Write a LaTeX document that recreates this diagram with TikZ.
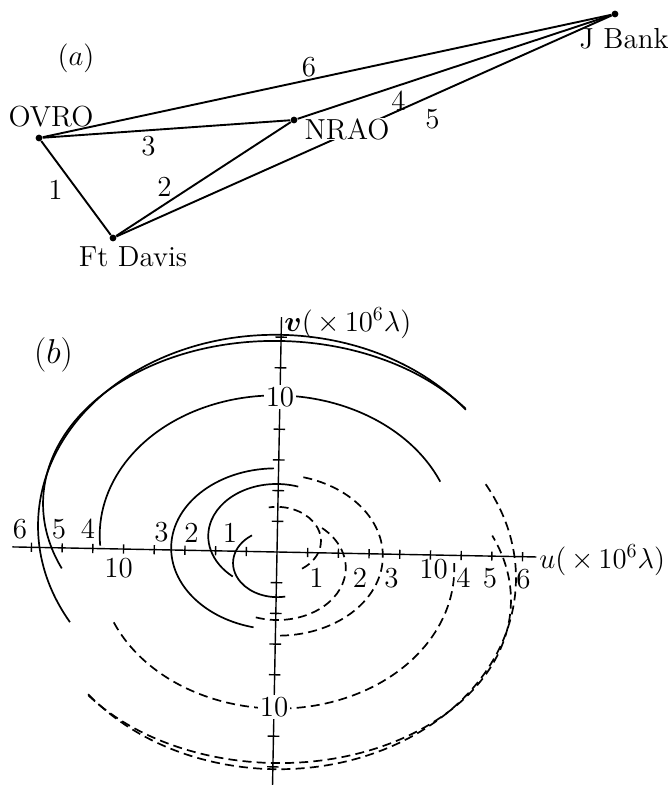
\documentclass[tikz,border=0pt]{standalone}
\usepackage{fontspec}
\usepackage{amsmath}
\tikzset{
  lbl/.style={font=\fontsize{14.5}{17}\selectfont, inner sep=0.5pt},
  station/.style={circle, fill=black, inner sep=0pt, minimum size=3.4pt},
  bline/.style={line width=0.95pt},
  trk/.style={line width=0.85pt},
  trkd/.style={line width=0.85pt, dash pattern=on 4.5pt off 2.6pt},
  axisline/.style={line width=0.7pt},
}
\newcommand\uvtrk[5]{% a b c t1 t2
  \draw[trk] (0,#3) ++(#4:#1 and #2) arc[start angle=#4, end angle=#5, x radius=#1, y radius=#2];
  \draw[trkd] (0,{-1*(#3)}) ++({#4+180}:#1 and #2) arc[start angle={#4+180}, end angle={#5+180}, x radius=#1, y radius=#2];
}
\begin{document}
\begin{tikzpicture}[x=0.5pt,y=-0.5pt]
\useasboundingbox (0,0) rectangle (668,785);
% ---------- (a) ----------
\node[station] (ovro) at (39,138) {};
\node[station] (nrao) at (294,120) {};
\node[station] (jb) at (615,14) {};
\node[station] (fd) at (113,238) {};
\draw[bline] (ovro) -- (jb);
\draw[bline] (ovro) -- (nrao);
\draw[bline] (ovro) -- (fd);
\draw[bline] (fd) -- (nrao);
\draw[bline] (fd) -- (jb);
\node[lbl, fill=white, inner sep=0.2pt] (lnrao) at (347,129) {NRAO};
\draw[bline] (nrao) -- (jb);
\node[lbl] (la) at (76,58) {$(a)$};
\node[lbl] (l6) at (309,67) {6};
\node[lbl] (lovro) at (51,117) {OVRO};
\node[lbl] (l3) at (148.5,146) {3};
\node[lbl] (l1) at (55.5,190) {1};
\node[lbl] (l2) at (164.5,187) {2};
\node[lbl] (l4) at (398.5,100.5) {4};
\node[lbl] (l5) at (432.5,119.5) {5};
\node[lbl] (ljb) at (624,38.5) {J Bank};
\node[lbl, anchor=base] (lfd) at (133,267) {Ft Davis};
% ---------- (b) ----------
\node[font=\fontsize{17}{20}\selectfont, inner sep=0.5pt] (lb) at (53.5,354.5) {$(b)$};
\coordinate (O) at (277,552);
\begin{scope}[shift={(O)}, x=7.675pt, y=7.675pt, rotate=-1.1]
  \draw[axisline] (-17.25,0) coordinate (ul) -- (16.9,0) coordinate (ur);
  \draw[axisline] (0,-15.4) coordinate (vb) -- (0,15.3) coordinate (vt);
  \foreach \t in {-16,-14,-12,-10,-8,-6,-4,-2,2,4,6,8,10,12,14,16}
    \draw[axisline] (\t,-0.3) -- (\t,0.3);
  \foreach \t in {-14,-12,-8,-6,-4,-2,2,4,6,8,12,14}
    \draw[axisline] (-0.38,\t) -- (0.38,\t);
  \uvtrk{15.6}{12.55}{1.6}{39}{210.8}
  \uvtrk{15.3}{10.75}{3}{37.7}{203.8}
  \uvtrk{11.57}{9.2}{1}{24.3}{185}
  \uvtrk{6.9}{5.25}{0.2}{92.5}{258}
  \uvtrk{4.5}{3.43}{1.0}{73.2}{230.7}
  \uvtrk{2.85}{2.2}{-0.74}{125.4}{282}
  \node[lbl, fill=white, inner sep=0.8pt] (v10t) at (0,10.1) {10};
  \node[lbl, fill=white, inner sep=0.8pt] (v10b) at (0,-10.1) {10};
\end{scope}
\node[lbl, anchor=west, inner sep=0pt] (ulab) at (539,560) {$u(\,{\times}\,10^{6}\lambda)$};
\node[lbl, anchor=west, inner sep=0pt] (vlab) at (284,323) {$\boldsymbol{v}(\,{\times}\,10^{6}\lambda)$};
% u-axis labels
\node[lbl] (ul6) at (20,529) {6};
\node[lbl] (ul5) at (59,529) {5};
\node[lbl] (ul4) at (88,529) {4};
\node[lbl] (ul3) at (161.5,532) {3};
\node[lbl] (ul2) at (191.5,533) {2};
\node[lbl] (ul1) at (230,533) {1};
\node[lbl] (ul10) at (118.5,568) {10};
\node[lbl] (ur1) at (316.5,578) {1};
\node[lbl] (ur2) at (360,578) {2};
\node[lbl] (ur3) at (391.5,578) {3};
\node[lbl] (ur10) at (433.5,569) {10};
\node[lbl] (ur4) at (463.5,578) {4};
\node[lbl] (ur5) at (490,578) {5};
\node[lbl] (ur6) at (523.5,579) {6};
\end{tikzpicture}
\end{document}
